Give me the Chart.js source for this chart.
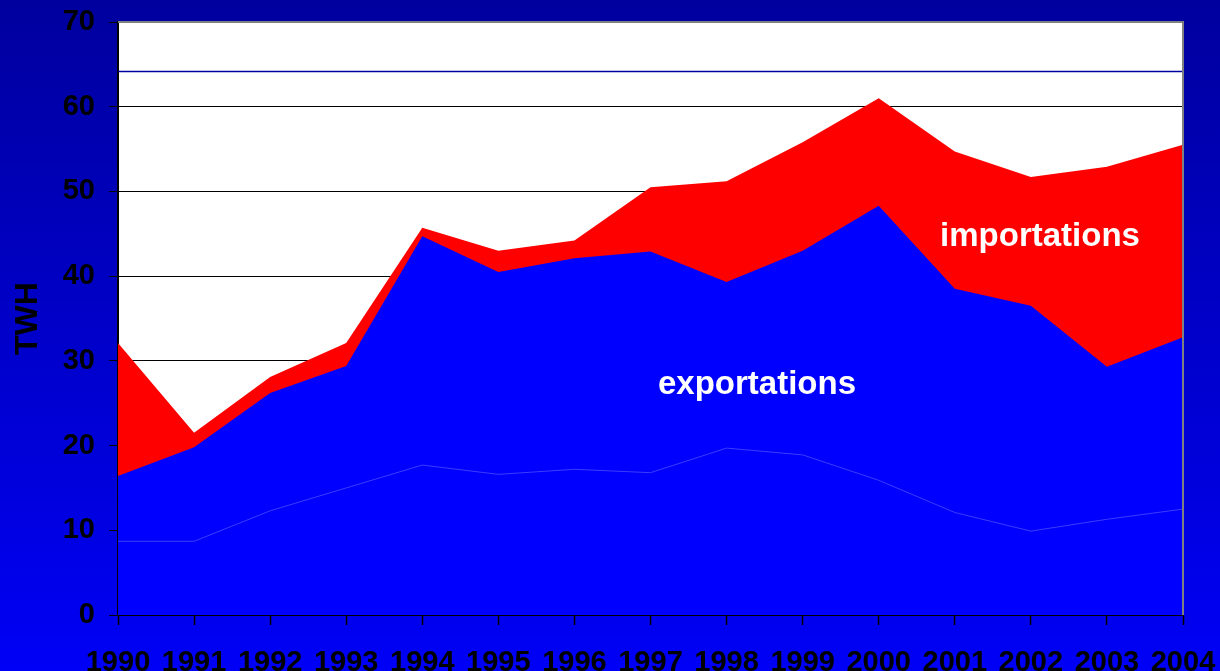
<!DOCTYPE html>
<html>
<head>
<meta charset="utf-8">
<script src="https://cdn.jsdelivr.net/npm/chart.js@4"></script>
<style>
  html, body { margin: 0; padding: 0; background: #0000c0; }
  #wrap { width: 1220px; height: 671px; position: relative; }
</style>
</head>
<body>
<div id="wrap"><canvas id="myChart"></canvas></div>
<script>
  const years = ['1990', '1991', '1992', '1993', '1994', '1995', '1996', '1997',
                 '1998', '1999', '2000', '2001', '2002', '2003', '2004'];
  // cumulative levels (TWH)
  const baseLevel = [8.7, 8.7, 12.3, 15.0, 17.7, 16.6, 17.2, 16.8, 19.7, 18.9, 15.9, 12.1, 9.9, 11.3, 12.5];
  const exportTotal = [16.4, 19.8, 26.2, 29.4, 44.7, 40.5, 42.1, 42.9, 39.3, 43.0, 48.3, 38.5, 36.5, 29.3, 32.8];
  const importTotal = [32.1, 21.5, 28.1, 32.1, 45.7, 43.0, 44.2, 50.5, 51.2, 55.8, 61.0, 54.7, 51.7, 52.9, 55.5];
  const yTicks = [0, 10, 20, 30, 40, 50, 60, 70];
  const refLevel = 64.2;
  // text inside the areas: [label, category index, value]
  const areaLabels = [
    ['exportations', 8.4, 27.2],
    ['importations', 12.12, 44.6]
  ];

  const FONT = 'Arial, "Liberation Sans", sans-serif';

  // keep the plot box where the layout padding puts it
  function noPad(scale) {
    scale.paddingLeft = 0;
    scale.paddingRight = 0;
    scale.paddingTop = 0;
    scale.paddingBottom = 0;
  }

  const backdrop = {
    id: 'backdrop',
    beforeDraw(chart) {
      const { ctx, chartArea: a, width, height } = chart;
      ctx.save();
      const g = ctx.createLinearGradient(0, 0, 0, height);
      g.addColorStop(0, '#00009e');
      g.addColorStop(1, '#0000f6');
      ctx.fillStyle = g;
      ctx.fillRect(0, 0, width, height);
      ctx.fillStyle = '#ffffff';
      ctx.fillRect(a.left, a.top, a.right - a.left, a.bottom - a.top);
      ctx.restore();
    },
    beforeDatasetsDraw(chart) {
      const { ctx, chartArea: a, scales } = chart;
      const y = Math.round(scales.y.getPixelForValue(refLevel)) + 0.5;
      ctx.save();
      ctx.strokeStyle = '#0000a0';
      ctx.lineWidth = 1.5;
      ctx.beginPath();
      ctx.moveTo(a.left, y);
      ctx.lineTo(a.right, y);
      ctx.stroke();
      ctx.restore();
    },
    afterDatasetsDraw(chart) {
      const { ctx, chartArea: a, scales } = chart;
      ctx.save();
      ctx.strokeStyle = '#808080';
      ctx.lineWidth = 2;
      ctx.beginPath();
      ctx.moveTo(a.left, a.top);
      ctx.lineTo(a.right, a.top);
      ctx.lineTo(a.right, a.bottom);
      ctx.stroke();
      ctx.fillStyle = '#ffffff';
      ctx.font = 'bold 33px ' + FONT;
      ctx.textAlign = 'center';
      ctx.textBaseline = 'middle';
      areaLabels.forEach(([txt, i, v]) => {
        ctx.fillText(txt, scales.x.getPixelForValue(i), scales.y.getPixelForValue(v));
      });
      ctx.restore();
    }
  };

  const data = {
    labels: years,
    datasets: [
      {
        label: 'base',
        data: baseLevel,
        fill: 'origin',
        backgroundColor: '#0000ff',
        borderColor: '#3c3cff',
        borderWidth: 1
      },
      {
        label: 'exportations',
        data: exportTotal,
        fill: 'origin',
        backgroundColor: '#0000ff',
        borderColor: '#0000ff',
        borderWidth: 0
      },
      {
        label: 'importations',
        data: importTotal,
        fill: 'origin',
        backgroundColor: '#ff0000',
        borderColor: '#ff0000',
        borderWidth: 0
      }
    ]
  };

  const config = {
    type: 'line',
    data: data,
    options: {
      responsive: true,
      maintainAspectRatio: false,
      animation: false,
      layout: { padding: { top: 22, right: 37, left: 0, bottom: 0 } },
      elements: { point: { radius: 0 }, line: { tension: 0 } },
      plugins: {
        legend: { display: false },
        tooltip: { enabled: false }
      },
      scales: {
        x: {
          offset: false,
          grid: { drawOnChartArea: false, tickLength: 10, tickColor: '#000000', tickWidth: 1.5 },
          border: { color: '#000000', width: 2 },
          ticks: {
            color: '#000000',
            font: { family: FONT, size: 29, weight: 'bold' },
            padding: 21,
            maxRotation: 0,
            autoSkip: false
          },
          afterFit(scale) { scale.height = 56; noPad(scale); }
        },
        y: {
          min: 0,
          max: 70,
          afterBuildTicks(scale) { scale.ticks = yTicks.map(v => ({ value: v })); },
          grid: {
            color: ctx => ctx.tick && ctx.tick.value === 70 ? '#808080' : '#000000',
            lineWidth: 1,
            tickLength: 9,
            tickColor: '#000000'
          },
          border: { color: '#000000', width: 2 },
          ticks: {
            color: '#000000',
            font: { family: FONT, size: 29, weight: 'bold' },
            padding: 14
          },
          title: {
            display: true,
            text: 'TWH',
            color: '#000000',
            font: { family: FONT, size: 32, weight: 'bold' },
            padding: { top: 9, bottom: 0 }
          },
          afterFit(scale) { scale.width = 118; noPad(scale); }
        }
      }
    },
    plugins: [backdrop]
  };

  var myChart = new Chart(document.getElementById('myChart'), config);
</script>
</body>
</html>
